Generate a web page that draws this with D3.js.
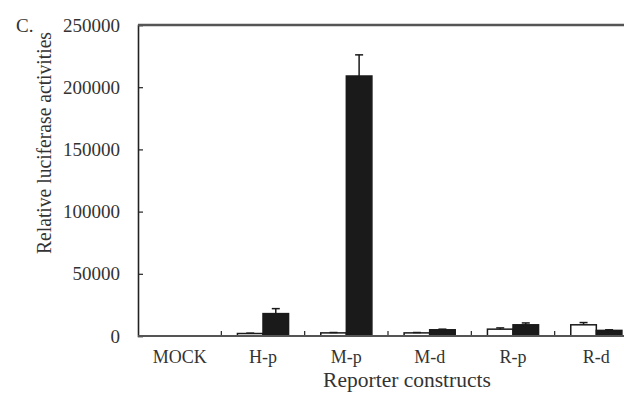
<!DOCTYPE html>
<html>
<head>
<meta charset="utf-8">
<script src="https://cdn.jsdelivr.net/npm/d3@7"></script>
<style>
html,body{margin:0;padding:0;background:#fff;}
svg{display:block;}
text{font-family:"Liberation Serif","Times New Roman",serif;fill:#333;}
</style>
</head>
<body>
<svg id="chart" width="624" height="405"></svg>
<script>
const categories = ["MOCK", "H-p", "M-p", "M-d", "R-p", "R-d"];
const seriesNames = ["control", "treated"];
const whiteValues = [100, 2000, 2500, 2500, 5500, 9000];
const whiteErrors = [0, 300, 300, 300, 1000, 1800];
const blackValues = [100, 18000, 209000, 5000, 9000, 4500];
const blackErrors = [0, 4000, 17000, 500, 1500, 500];
const yTicks = [0, 50000, 100000, 150000, 200000, 250000];

const svg = d3.select("#chart");
const mLeft = 138, mTop = 25, mBottom = 336, mRight = 638;

const x0 = d3.scaleBand().domain(categories).range([mLeft, mRight]).padding(0);
const x1 = d3.scaleBand().domain(seriesNames).range([0, x0.bandwidth()]).paddingInner(0).paddingOuter(0.63);
const y = d3.scaleLinear().domain([0, 250000]).range([mBottom, mTop]);

const rows = categories.map((c, i) => ({
  cat: c,
  bars: [
    {s: "control", v: whiteValues[i], e: whiteErrors[i], fill: "#fff"},
    {s: "treated", v: blackValues[i], e: blackErrors[i], fill: "#1a1a1a"}
  ]
}));

// bars
const g = svg.append("g");
rows.forEach(r => {
  r.bars.forEach(b => {
    const bx = x0(r.cat) + x1(b.s);
    const w = x1.bandwidth();
    g.append("rect")
      .attr("x", bx).attr("y", y(b.v))
      .attr("width", w).attr("height", Math.max(0, mBottom - y(b.v)))
      .attr("fill", b.fill).attr("stroke", "#1a1a1a").attr("stroke-width", 1.5);
    if (b.e > 0) {
      const cx = bx + w / 2;
      g.append("line").attr("x1", cx).attr("x2", cx)
        .attr("y1", y(b.v)).attr("y2", y(b.v + b.e))
        .attr("stroke", "#1a1a1a").attr("stroke-width", 1.5);
      g.append("line").attr("x1", cx - 4).attr("x2", cx + 4)
        .attr("y1", y(b.v + b.e)).attr("y2", y(b.v + b.e))
        .attr("stroke", "#1a1a1a").attr("stroke-width", 1.5);
    }
  });
});

// y axis
const yAxis = d3.axisLeft(y).tickValues(yTicks).tickSize(-5).tickPadding(18).tickFormat(d3.format("d"));
const ya = svg.append("g").attr("transform", `translate(${mLeft},0)`).call(yAxis);
ya.select(".domain").attr("stroke", "#222").attr("stroke-width", 1.6);
ya.selectAll(".tick line").attr("stroke", "#222").attr("stroke-width", 1.2);
ya.selectAll("text").style("font-size", "19px").attr("fill", "#333");

// x axis
const xAxis = d3.axisBottom(x0).tickSize(0).tickPadding(14);
const xa = svg.append("g").attr("transform", `translate(0,${mBottom})`).call(xAxis);
xa.select(".domain").remove();
xa.selectAll("text").style("font-size", "18px").attr("fill", "#333");
// x boundary ticks
const bounds = categories.slice(1).map(c => x0(c));
svg.append("g").selectAll("line").data(bounds).join("line")
  .attr("x1", d => d).attr("x2", d => d)
  .attr("y1", mBottom).attr("y2", mBottom - 5)
  .attr("stroke", "#222").attr("stroke-width", 1.2);
svg.append("line").attr("x1", mLeft).attr("x2", mRight).attr("y1", mBottom).attr("y2", mBottom)
  .attr("stroke", "#555").attr("stroke-width", 2);

// top frame
svg.append("line").attr("x1", mLeft).attr("x2", mRight).attr("y1", mTop).attr("y2", mTop)
  .attr("stroke", "#555").attr("stroke-width", 2.5);

// labels
svg.append("text").attr("x", 407).attr("y", 387).attr("text-anchor", "middle")
  .style("font-size", "21.5px").text("Reporter constructs");
svg.append("text").attr("transform", `translate(51,143) rotate(-90)`)
  .attr("text-anchor", "middle").style("font-size", "21px")
  .attr("textLength", 222).attr("lengthAdjust", "spacingAndGlyphs")
  .text("Relative luciferase activities");
svg.append("text").attr("x", 16).attr("y", 32).style("font-size", "19px").text("C.");
</script>
</body>
</html>
